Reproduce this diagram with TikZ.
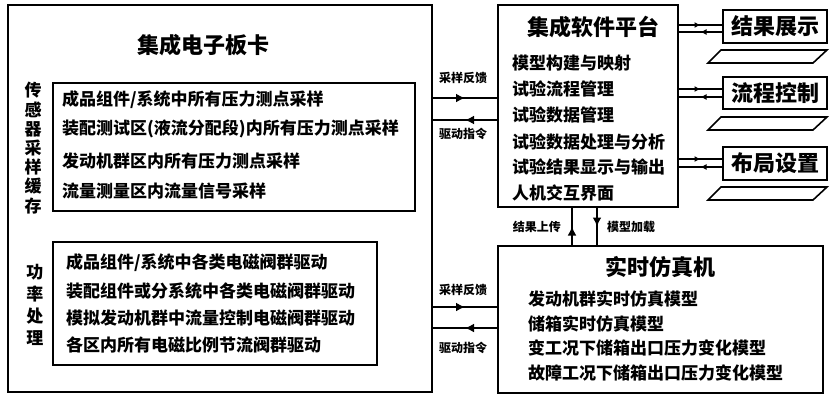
\documentclass[tikz,border=0pt]{standalone}
\usepackage{fontspec}
\setmainfont{Noto Sans CJK SC}
\usetikzlibrary{arrows.meta,decorations.markings}
\tikzset{
  box/.style={draw, line width=#1, rectangle, inner sep=0pt},
  box/.default=2pt,
  big/.style={font=\bfseries\fontsize{22}{24}\selectfont},
  item/.style={font=\bfseries\fontsize{17}{19}\selectfont, anchor=west, inner sep=0pt},
  small/.style={font=\bfseries\fontsize{12}{14}\selectfont, inner sep=0pt},
  thick conn/.style={line width=2.6pt},
  thin conn/.style={line width=1.3pt},
  midarrow/.style={postaction={decorate}, decoration={markings, mark=at position 0.5 with {\arrow{Latex[length=#1,width=#1]}}}},
  midarrow/.default=9pt,
  para/.style={line width=1.6pt, line join=miter},
}
\begin{document}
\begin{tikzpicture}[x=1pt,y=-1pt]
\useasboundingbox (0,0) rectangle (831,400);
% outer card
\node[box=2pt, minimum width=424pt, minimum height=387pt] (card) at (220,198.5) {};
\node[big] (cardt) at (203,45) {\bfseries 集成电子板卡};
% sensor sub box
\node[box=1.3pt, minimum width=362pt, minimum height=128pt] (sens) at (234,147) {};
\node[item] (s1) at (62,100) {成品组件/系统中所有压力测点采样};
\node[item] (s2) at (62,129) {装配测试区(液流分配段)内所有压力测点采样};
\node[item] (s3) at (62,161) {发动机群区内所有压力测点采样};
\node[item] (s4) at (62,191) {流量测量区内流量信号采样};
\node[font=\bfseries\fontsize{17}{19.2}\selectfont, align=center, inner sep=0pt] (sl) at (33,148) {传\\感\\器\\采\\样\\缓\\存};
% power sub box
\node[box=1.3pt, minimum width=324pt, minimum height=123pt] (pow) at (215,303.5) {};
\node[item] (p1) at (66,263) {成品组件/系统中各类电磁阀群驱动};
\node[item] (p2) at (66,291) {装配组件或分系统中各类电磁阀群驱动};
\node[item] (p3) at (66,318) {模拟发动机群中流量控制电磁阀群驱动};
\node[item] (p4) at (66,345) {各区内所有电磁比例节流阀群驱动};
\node[font=\bfseries\fontsize{17}{22}\selectfont, align=center, inner sep=0pt] (pl) at (35,305) {功\\率\\处\\理};
% software platform
\node[box=2pt, minimum width=180pt, minimum height=202pt] (sw) at (588,106) {};
\node[big] (swt) at (593,27) {集成软件平台};
\node[item] (w1) at (512,63) {模型构建与映射};
\node[item] (w2) at (512,89) {试验流程管理};
\node[item] (w3) at (512,115) {试验数据管理};
\node[item] (w4) at (512,142) {试验数据处理与分析};
\node[item] (w5) at (512,167) {试验结果显示与输出};
\node[item] (w6) at (512,193) {人机交互界面};
% simulator
\node[box=2pt, minimum width=325pt, minimum height=147pt] (sim) at (660.5,319.5) {};
\node[big] (simt) at (660,267) {实时仿真机};
\node[item] (m1) at (528,299) {发动机群实时仿真模型};
\node[item] (m2) at (528,324) {储箱实时仿真模型};
\node[item] (m3) at (528,348) {变工况下储箱出口压力变化模型};
\node[item] (m4) at (528,373) {故障工况下储箱出口压力变化模型};
% right boxes
\node[box=2pt, minimum width=104pt, minimum height=33pt, big] (r1) at (775,26.5) {结果展示};
\node[box=2pt, minimum width=104pt, minimum height=32pt, big] (r2) at (775,93) {流程控制};
\node[box=2pt, minimum width=104pt, minimum height=33pt, big] (r3) at (775,163.5) {布局设置};
% parallelograms
\draw[para] (721,50) -- (827,50) -- (813,63) -- (708,63) -- cycle;
\draw[para] (721,117) -- (827,117) -- (813,130) -- (708,130) -- cycle;
\draw[para] (721,187) -- (827,187) -- (813,200) -- (708,200) -- cycle;
% card <-> platform
\draw[thick conn, midarrow] (card.east |- 0,98) -- (sw.west |- 0,98);
\draw[thick conn, midarrow] (sw.west |- 0,120) -- (card.east |- 0,120);
\node[small] (l1) at (463,78) {采样反馈};
\node[small] (l2) at (463,134) {驱动指令};
% card <-> simulator
\draw[thick conn, midarrow] (card.east |- 0,307) -- (sim.west |- 0,307);
\draw[thick conn, midarrow] (sim.west |- 0,328) -- (card.east |- 0,328);
\node[small] (l3) at (463,290) {采样反馈};
\node[small] (l4) at (463,348) {驱动指令};
% platform <-> simulator
\draw[thick conn, midarrow] (sim.north -| 572,0) -- (sw.south -| 572,0);
\draw[thick conn, midarrow] (sw.south -| 597,0) -- (sim.north -| 597,0);
\node[small, anchor=east] (l5) at (561,227) {结果上传};
\node[small, anchor=west] (l6) at (607,227) {模型加载};
% platform <-> right boxes
\draw[thin conn, midarrow=6pt] (sw.east |- 0,25) -- (r1.west |- 0,25);
\draw[thin conn, midarrow=6pt] (r1.west |- 0,32) -- (sw.east |- 0,32);
\draw[thin conn, midarrow=6pt] (sw.east |- 0,89) -- (r2.west |- 0,89);
\draw[thin conn, midarrow=6pt] (r2.west |- 0,97) -- (sw.east |- 0,97);
\draw[thin conn, midarrow=6pt] (sw.east |- 0,159) -- (r3.west |- 0,159);
\draw[thin conn, midarrow=6pt] (r3.west |- 0,167) -- (sw.east |- 0,167);
\end{tikzpicture}
\end{document}
